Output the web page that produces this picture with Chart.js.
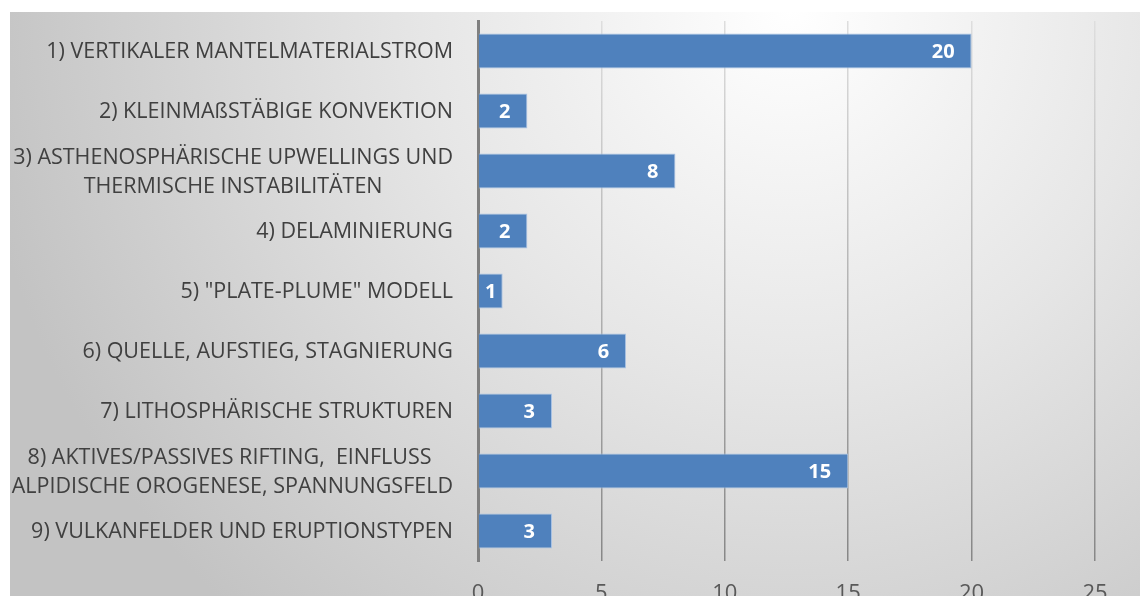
<!DOCTYPE html>
<html>
<head>
<meta charset="utf-8">
<script src="https://cdn.jsdelivr.net/npm/chart.js@4"></script>
<style>
  html, body { margin: 0; padding: 0; background: #fff; }
  #wrap { width: 1140px; height: 596px; }
</style>
</head>
<body>
<div id="wrap"><canvas id="myChart" width="1140" height="596"></canvas></div>
<script>
const categories = [
  ["1) VERTIKALER MANTELMATERIALSTROM"],
  ["2) KLEINMAßSTÄBIGE KONVEKTION"],
  ["3) ASTHENOSPHÄRISCHE UPWELLINGS UND", "THERMISCHE INSTABILITÄTEN"],
  ["4) DELAMINIERUNG"],
  ["5) \"PLATE-PLUME\" MODELL"],
  ["6) QUELLE, AUFSTIEG, STAGNIERUNG"],
  ["7) LITHOSPHÄRISCHE STRUKTUREN"],
  ["8) AKTIVES/PASSIVES RIFTING,  EINFLUSS ", "ALPIDISCHE OROGENESE, SPANNUNGSFELD"],
  ["9) VULKANFELDER UND ERUPTIONSTYPEN"]
];
const counts = [20, 2, 8, 2, 1, 6, 3, 15, 3];
const xTicks = [0, 5, 10, 15, 20, 25];

const labelFont = '21.5px "Open Sans"';
const valueFont = 'bold 20px "Open Sans"';

// gray panel behind the plot, light near the top middle
const panelBg = {
  id: 'panelBg',
  beforeDraw(chart) {
    const c = chart.ctx;
    c.save();
    c.fillStyle = '#ffffff';
    c.fillRect(0, 0, chart.width, chart.height);
    const g = c.createRadialGradient(790, 10, 0, 790, 10, 820);
    g.addColorStop(0, '#ffffff');
    g.addColorStop(0.45, '#e6e6e6');
    g.addColorStop(1, '#c3c3c3');
    c.fillStyle = g;
    c.fillRect(10, 12, chart.width - 10, chart.height - 12);
    c.restore();
  }
};

// category names: right aligned block, lines centred inside the block
const catLabels = {
  id: 'catLabels',
  afterDraw(chart) {
    const c = chart.ctx;
    const y = chart.scales.y;
    const right = y.right - 25;
    const lh = 29;
    c.save();
    c.font = labelFont;
    c.fillStyle = '#404040';
    c.textBaseline = 'middle';
    c.textAlign = 'center';
    categories.forEach((lines, i) => {
      const mid = y.getPixelForValue(i);
      const w = Math.max(...lines.map(l => c.measureText(l).width));
      const cx = right - w / 2;
      lines.forEach((l, j) => {
        c.fillText(l, cx, mid + 1 + (j - (lines.length - 1) / 2) * lh);
      });
    });
    c.restore();
  }
};

// value labels inside the bar end
const valueLabels = {
  id: 'valueLabels',
  afterDatasetsDraw(chart) {
    const c = chart.ctx;
    const meta = chart.getDatasetMeta(0);
    c.save();
    c.font = valueFont;
    c.fillStyle = '#ffffff';
    c.textBaseline = 'middle';
    c.textAlign = 'center';
    meta.data.forEach((bar, i) => {
      const txt = String(counts[i]);
      const w = c.measureText(txt).width;
      let x = bar.x - 17 - w / 2;
      if (x - w / 2 < bar.base) x = (bar.x + bar.base) / 2;
      c.fillText(txt, x, bar.y + 1);
    });
    c.restore();
  }
};

const ctx = document.getElementById('myChart');

new Chart(ctx, {
  type: 'bar',
  data: {
    labels: categories,
    datasets: [{
      data: counts,
      backgroundColor: '#4f81bd',
      borderColor: '#aac3e3',
      borderWidth: 1,
      barPercentage: 0.585,
      categoryPercentage: 1
    }]
  },
  options: {
    indexAxis: 'y',
    responsive: false,
    animation: false,
    layout: { padding: { top: 21, right: 45, left: 0, bottom: 0 } },
    plugins: {
      legend: { display: false },
      tooltip: { enabled: false }
    },
    scales: {
      x: {
        min: 0,
        max: 25,
        afterBuildTicks(scale) {
          scale.ticks = xTicks.map(v => ({ value: v }));
        },
        afterFit(scale) { scale.height = 35; },
        border: { display: false },
        grid: {
          drawTicks: false,
          lineWidth: 1.5,
          color(context) {
            const area = context.chart.chartArea;
            if (!area) return '#c0c0c0';
            const g = context.chart.ctx.createLinearGradient(0, area.top, 0, area.bottom);
            g.addColorStop(0, '#dedede');
            g.addColorStop(1, '#878787');
            return g;
          }
        },
        ticks: {
          padding: 20,
          color: '#595959',
          font: { family: 'Open Sans', size: 22 }
        }
      },
      y: {
        afterFit(scale) { scale.width = 478; },
        border: { display: true, color: '#808080', width: 3 },
        grid: { display: false, drawTicks: false },
        ticks: { display: false }
      }
    }
  },
  plugins: [panelBg, catLabels, valueLabels]
});
</script>
</body>
</html>
